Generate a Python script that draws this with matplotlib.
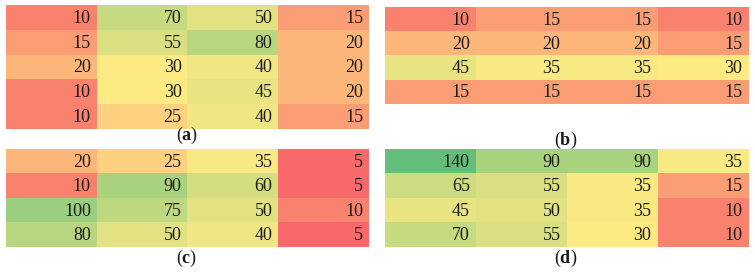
import numpy as np
import matplotlib
matplotlib.use('Agg')
import matplotlib.pyplot as plt
from matplotlib.colors import LinearSegmentedColormap, TwoSlopeNorm

# cell values of the four tables, read row by row
panelA = [[10, 70, 50, 15],
          [15, 55, 80, 20],
          [20, 30, 40, 20],
          [10, 30, 45, 20],
          [10, 25, 40, 15]]
panelB = [[10, 15, 15, 10],
          [20, 20, 20, 15],
          [45, 35, 35, 30],
          [15, 15, 15, 15]]
panelC = [[20, 25, 35, 5],
          [10, 90, 60, 5],
          [100, 75, 50, 10],
          [80, 50, 40, 5]]
panelD = [[140, 90, 90, 35],
          [65, 55, 35, 15],
          [45, 50, 35, 10],
          [70, 55, 30, 10]]
panelLabels = ['a', 'b', 'c', 'd']

plt.rcParams['mathtext.fontset'] = 'custom'
plt.rcParams['mathtext.rm'] = 'Liberation Serif'
plt.rcParams['mathtext.bf'] = 'Liberation Serif:bold'

# excel-like 3 colour scale: min red, median yellow, max green (shared by all panels)
cmap = LinearSegmentedColormap.from_list('ryg', ['#F8696B', '#FFEB84', '#63BE7B'])
allVals = np.concatenate([np.ravel(p) for p in (panelA, panelB, panelC, panelD)])
norm = TwoSlopeNorm(vmin=allVals.min(), vcenter=np.median(allVals), vmax=allVals.max())

W, H = 755.0, 272.0
fig = plt.figure(figsize=(W / 100, H / 100), dpi=100)

# pixel boxes (left, top, right, bottom) and label centres
boxes = [(6, 5, 369, 129), (385, 7, 748, 104), (6, 149, 369, 247), (385, 149, 748, 247)]
labelPos = [(187, 135), (566, 140), (187, 258), (566, 258)]

for data, box, lab, lp in zip((panelA, panelB, panelC, panelD), boxes, panelLabels, labelPos):
  arr = np.array(data)
  l, t, r, b = box
  ax = fig.add_axes([l / W, 1 - b / H, (r - l) / W, (b - t) / H])
  ax.imshow(arr, cmap=cmap, norm=norm, aspect='auto', interpolation='nearest')
  nr, nc = arr.shape
  for i in range(nr):
    for j in range(nc):
      ax.text(j + 0.435, i + 0.04, str(arr[i, j]), ha='right', va='center',
              fontsize=13, family='Liberation Serif', color='#1a1a1a')
  ax.set_axis_off()
  fig.text(lp[0] / W, 1 - lp[1] / H, '($\\mathbf{%s}$)' % lab, ha='center', va='center',
           fontsize=13, family='Liberation Serif', color='#1a1a1a')

fig.savefig('out.png', dpi=100)
